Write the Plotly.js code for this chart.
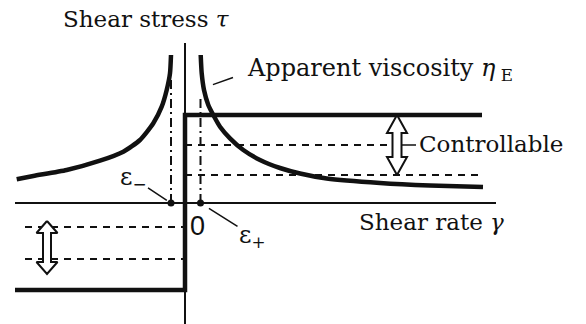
<!DOCTYPE html>
<html>
<head>
<meta charset="utf-8">
<script src="https://cdn.plot.ly/plotly-3.0.1.min.js"></script>
</head>
<body style="margin:0;background:#fff">
<div id="chart" style="width:586px;height:324px"></div>
<script>
// Bingham-type ER/MR fluid: shear stress vs shear rate, with apparent viscosity
// Shear-rate / shear-stress values in arbitrary units.

// Bingham step: -tau_y for negative shear rate, +tau_y for positive
const binghamRate = [-17.0, 0, 0, 29.7];
const binghamStress = [-8.7, -8.7, 8.8, 8.8];

// Apparent viscosity eta_E = tau / gamma (right branch, gamma > 0)
const etaRightRate = [1.57, 1.67, 1.9, 2.33, 2.83, 3.5, 4.5, 5.83, 7.5, 9.5, 11.5, 14.17, 19.5, 24.5, 29.8];
const etaRightValue = [14.8, 12.97, 11.3, 9.8, 8.8, 7.63, 6.47, 5.3, 4.3, 3.5, 2.95, 2.45, 2.0, 1.75, 1.6];

// Apparent viscosity, left branch (gamma < 0)
const etaLeftRate = [-1.4, -1.5, -1.83, -2.33, -3.17, -4.5, -6.17, -8.5, -11.83, -15.17, -16.83];
const etaLeftValue = [14.8, 12.97, 11.3, 9.63, 7.97, 6.3, 5.13, 4.23, 3.3, 2.7, 2.37];

// Small shear-rate thresholds epsilon- / epsilon+
const epsMinus = -1.4;
const epsPlus = 1.55;
const epsMinusTop = 12.6;
const epsPlusTop = 10.8;

// Controllable (field-dependent) yield stress levels
const ctrlLevelsPos = [5.8, 2.8];
const ctrlLevelsPosEnd = [20.5, 29.5];
const ctrlLevelsNeg = [-2.4, -5.6];
const ctrlNegStart = -16.0;

// Controllable range arrows: [rate, top, bottom]
const ctrlArrowPos = [21.2, 8.8, 2.8];
const ctrlArrowNeg = [-13.8, -1.8, -7.1];

// Axis extents
const rateAxis = [-17.0, 31.1];
const stressAxis = [-12.1, 16.0];

const BLACK = '#111';
const SERIF = 'DejaVu Serif';

function dblArrow(x, yTop, yBot, headLen, headHalf, shaftHalf) {
  const xs = [x, x + headHalf, x + shaftHalf, x + shaftHalf, x + headHalf, x,
              x - headHalf, x - shaftHalf, x - shaftHalf, x - headHalf, x];
  const ys = [yTop, yTop - headLen, yTop - headLen, yBot + headLen, yBot + headLen, yBot,
              yBot + headLen, yBot + headLen, yTop - headLen, yTop - headLen, yTop];
  return {
    x: xs, y: ys, mode: 'lines', fill: 'toself', fillcolor: '#fff',
    line: { color: BLACK, width: 2 }, hoverinfo: 'skip', showlegend: false
  };
}

const traces = [];

// dashed controllable levels
ctrlLevelsPos.forEach((lv, i) => traces.push({
  x: [0, ctrlLevelsPosEnd[i]], y: [lv, lv], mode: 'lines',
  line: { color: BLACK, width: 2, dash: '7px,6px' }, showlegend: false
}));
ctrlLevelsNeg.forEach(lv => traces.push({
  x: [ctrlNegStart, 0], y: [lv, lv], mode: 'lines',
  line: { color: BLACK, width: 2, dash: '7px,6px' }, showlegend: false
}));

// dash-dot guides at the epsilon thresholds
traces.push({
  x: [epsMinus, epsMinus], y: [0, epsMinusTop], mode: 'lines',
  line: { color: BLACK, width: 2, dash: '9px,4px,2px,4px' }, showlegend: false
});
traces.push({
  x: [epsPlus, epsPlus], y: [0, epsPlusTop], mode: 'lines',
  line: { color: BLACK, width: 2, dash: '9px,4px,2px,4px' }, showlegend: false
});

// apparent viscosity curves
traces.push({
  x: etaRightRate, y: etaRightValue, mode: 'lines',
  line: { color: BLACK, width: 4.5, shape: 'spline', smoothing: 0.6 }, showlegend: false
});
traces.push({
  x: etaLeftRate, y: etaLeftValue, mode: 'lines',
  line: { color: BLACK, width: 4.5, shape: 'spline', smoothing: 0.6 }, showlegend: false
});

// Bingham shear stress
traces.push({
  x: binghamRate, y: binghamStress, mode: 'lines',
  line: { color: BLACK, width: 4.5 }, showlegend: false
});

// controllable-range arrows
traces.push(dblArrow(ctrlArrowPos[0], ctrlArrowPos[1], ctrlArrowPos[2], 1.8, 1.0, 0.45));
traces.push(dblArrow(ctrlArrowNeg[0], ctrlArrowNeg[1], ctrlArrowNeg[2], 1.2, 1.05, 0.4));

// epsilon points on the shear-rate axis
traces.push({
  x: [epsMinus, epsPlus], y: [0, 0], mode: 'markers',
  marker: { color: BLACK, size: 7 }, showlegend: false
});

function label(x, y, text, xanchor, size, family, extra) {
  return Object.assign({
    x: x, y: y, xref: 'x', yref: 'y', text: text, showarrow: false,
    xanchor: xanchor, font: { family: family || SERIF, size: size, color: BLACK }
  }, extra || {});
}

const layout = {
  width: 586, height: 324,
  margin: { l: 0, r: 0, t: 0, b: 0 },
  paper_bgcolor: '#fff', plot_bgcolor: '#fff',
  showlegend: false,
  xaxis: { range: [-18.5, 40.1], visible: false, fixedrange: true },
  yaxis: { range: [-12.1, 20.3], visible: false, fixedrange: true },
  shapes: [
    { type: 'line', layer: 'below', xref: 'x', yref: 'y',
      x0: rateAxis[0], x1: rateAxis[1], y0: 0, y1: 0, line: { color: BLACK, width: 2 } },
    { type: 'line', layer: 'below', xref: 'x', yref: 'y',
      x0: 0, x1: 0, y0: stressAxis[0], y1: stressAxis[1], line: { color: BLACK, width: 2 } },
    { type: 'line', xref: 'x', yref: 'y',
      x0: ctrlArrowPos[0] + 0.5, x1: 23.1, y0: ctrlLevelsPos[0], y1: ctrlLevelsPos[0],
      line: { color: BLACK, width: 1.5 } }
  ],
  annotations: [
    label(-3.9, 18.45, 'Shear stress <i>τ</i>', 'center', 23),
    label(6.0, 13.4, 'Apparent viscosity <i>η</i><sub> E</sub>', 'left', 24),
    { x: 1.85, y: 11.5, xref: 'x', yref: 'y', text: '', showarrow: true, arrowhead: 0,
      ax: 31, ay: -11, standoff: 10, arrowwidth: 1.5, arrowcolor: BLACK },
    label(23.2, 5.9, 'Controllable', 'left', 23),
    label(17.2, -1.9, 'Shear rate <i>γ</i>', 'left', 23),
    label(1.2, -2.25, '0', 'center', 27, 'Liberation Sans'),
    label(epsMinus, 0, 'ε<sub>−</sub>', 'center', 24, SERIF,
      { showarrow: true, arrowhead: 0, ax: -38, ay: -25, standoff: 5, arrowwidth: 1.5, arrowcolor: BLACK }),
    label(epsPlus, 0, 'ε<sub>+</sub>', 'center', 24, SERIF,
      { showarrow: true, arrowhead: 0, ax: 52, ay: 33, standoff: 10, arrowwidth: 1.5, arrowcolor: BLACK })
  ]
};

Plotly.newPlot('chart', traces, layout, { displayModeBar: false, staticPlot: true });
</script>
</body>
</html>
